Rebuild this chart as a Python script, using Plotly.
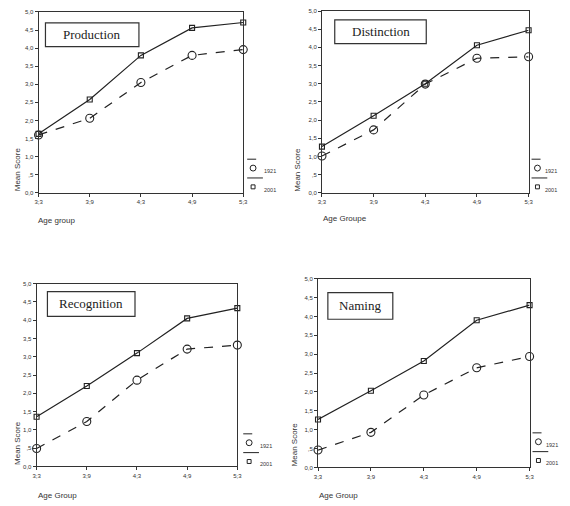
import plotly.graph_objects as go

# the page adds an 8px body margin, so the figure is sized to fill the rest
OFF = 8
W, H = 570 - OFF, 506 - OFF

age_groups = ["3;3", "3;9", "4;3", "4;9", "5;3"]
y_tick_vals = [0, 0.5, 1, 1.5, 2, 2.5, 3, 3.5, 4, 4.5, 5]
y_tick_text = ["0,0", ",5", "1,0", "1,5", "2,0", "2,5", "3,0", "3,5", "4,0", "4,5", "5,0"]

panel_titles = ["Production", "Distinction", "Recognition", "Naming"]
x_titles = ["Age group", "Age Groupe", "Age Group", "Age Group"]

production_1921 = [1.60, 2.06, 3.05, 3.80, 3.96]
production_2001 = [1.63, 2.58, 3.80, 4.56, 4.71]
distinction_1921 = [1.01, 1.73, 2.99, 3.70, 3.74]
distinction_2001 = [1.27, 2.12, 3.00, 4.06, 4.47]
recognition_1921 = [0.49, 1.23, 2.36, 3.21, 3.32]
recognition_2001 = [1.36, 2.20, 3.10, 4.05, 4.33]
naming_1921 = [0.46, 0.93, 1.92, 2.64, 2.94]
naming_2001 = [1.27, 2.03, 2.82, 3.90, 4.30]

series_1921 = [production_1921, distinction_1921, recognition_1921, naming_1921]
series_2001 = [production_2001, distinction_2001, recognition_2001, naming_2001]

# pixel layout (window coords) of each plot area: (x0, x1, ytop, ybottom)
areas = [(35, 243, 9, 192), (323, 533, 6, 192), (33, 237, 284, 469), (319, 534, 279, 470)]
title_boxes = [(42, 137, 20, 44), (336, 429, 17, 41), (44, 133, 292, 317), (329, 395, 293, 320)]
xtitle_pos = [(33, 220), (323, 218), (33, 498), (319, 498)]
legend_pos = [(247, 158), (536, 158), (243, 436), (537, 435)]
legend_text_dx = [16, 13, 16, 13]

def px(x):
    return (x - OFF) / W

def py(y):
    return 1 - (y - OFF) / H

fig = go.Figure()
shapes = []
annotations = []
font_sans = "Liberation Sans, Arial, sans-serif"
font_serif = "Liberation Serif, Times New Roman, serif"

for i in range(4):
    n = "" if i == 0 else str(i + 1)
    x0, x1, yt, yb = areas[i]
    fig.add_trace(go.Scatter(
        x=list(range(len(age_groups))), y=series_1921[i], mode="lines+markers",
        line=dict(color="#222", width=1.2, dash="dash"),
        marker=dict(symbol="circle-open", size=8, color="#222", line=dict(width=1.1)),
        xaxis="x" + n, yaxis="y" + n, showlegend=False, name="1921", cliponaxis=False))
    fig.add_trace(go.Scatter(
        x=list(range(len(age_groups))), y=series_2001[i], mode="lines+markers",
        line=dict(color="#222", width=1.2),
        marker=dict(symbol="square-open", size=5, color="#222", line=dict(width=1.1)),
        xaxis="x" + n, yaxis="y" + n, showlegend=False, name="2001", cliponaxis=False))
    axcommon = dict(showline=True, mirror=True, linecolor="#333", linewidth=1,
                    showgrid=False, zeroline=False, ticks="outside", ticklen=3,
                    tickcolor="#333", tickfont=dict(size=6, family=font_sans, color="#333"))
    fig.update_layout(**{
        "xaxis" + n: dict(domain=[px(x0), px(x1)], range=[0, 4], anchor="y" + n,
                          tickvals=list(range(len(age_groups))), ticktext=age_groups, **axcommon),
        "yaxis" + n: dict(domain=[max(0, py(yb)), min(1, py(yt))], range=[0, 5], anchor="x" + n,
                          tickvals=y_tick_vals, ticktext=y_tick_text, **axcommon),
    })
    # title box
    bx0, bx1, by0, by1 = title_boxes[i]
    shapes.append(dict(type="rect", xref="paper", yref="paper", x0=px(bx0), x1=px(bx1),
                       y0=py(by1), y1=py(by0), line=dict(color="#333", width=1.2),
                       fillcolor="white", layer="below"))
    annotations.append(dict(text=panel_titles[i], xref="paper", yref="paper",
                            x=px((bx0 + bx1) / 2), y=py((by0 + by1) / 2), showarrow=False,
                            font=dict(family=font_serif, size=13, color="#222"),
                            xanchor="center", yanchor="middle"))
    # axis titles
    annotations.append(dict(text="Mean Score", xref="paper", yref="paper",
                            x=max(0, px(x0 - 30)), y=py(yb), textangle=-90, showarrow=False,
                            font=dict(family=font_sans, size=8, color="#333"),
                            xanchor="left", yanchor="bottom", borderpad=0))
    xt, ytt = xtitle_pos[i]
    annotations.append(dict(text=x_titles[i], xref="paper", yref="paper",
                            x=px(xt), y=py(ytt), showarrow=False,
                            font=dict(family=font_sans, size=8, color="#333"),
                            xanchor="left", yanchor="middle", borderpad=0))
    # custom legend
    lx, ly = legend_pos[i]
    dx = legend_text_dx[i]
    shapes.append(dict(type="line", xref="paper", yref="paper", x0=px(lx), x1=px(lx + 16),
                       y0=py(ly), y1=py(ly), line=dict(color="#222", width=1, dash="dash")))
    shapes.append(dict(type="circle", xref="paper", yref="paper", x0=px(lx + 3), x1=px(lx + 9),
                       y0=py(ly + 12), y1=py(ly + 6), line=dict(color="#222", width=1)))
    annotations.append(dict(text="1921", xref="paper", yref="paper", x=px(lx + dx), y=py(ly + 12),
                            showarrow=False, font=dict(family=font_sans, size=5.5, color="#333"),
                            xanchor="left", yanchor="middle", borderpad=0))
    shapes.append(dict(type="line", xref="paper", yref="paper", x0=px(lx), x1=px(lx + 16),
                       y0=py(ly + 19), y1=py(ly + 19), line=dict(color="#222", width=1)))
    shapes.append(dict(type="rect", xref="paper", yref="paper", x0=px(lx + 4), x1=px(lx + 8),
                       y0=py(ly + 30), y1=py(ly + 26), line=dict(color="#222", width=1)))
    annotations.append(dict(text="2001", xref="paper", yref="paper", x=px(lx + dx), y=py(ly + 31),
                            showarrow=False, font=dict(family=font_sans, size=5.5, color="#333"),
                            xanchor="left", yanchor="middle", borderpad=0))

fig.update_layout(width=W, height=H, margin=dict(l=0, r=0, t=0, b=0),
                  paper_bgcolor="white", plot_bgcolor="white",
                  shapes=shapes, annotations=annotations, showlegend=False)

fig.write_html("out.html")
